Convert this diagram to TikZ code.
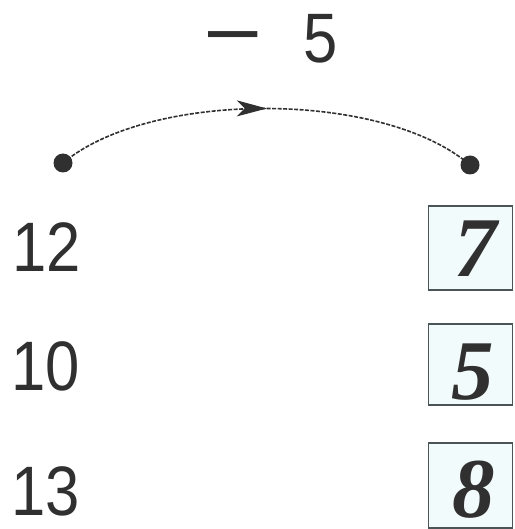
\documentclass[tikz,border=0pt]{standalone}
\usepackage{fontspec}
\setmainfont{Liberation Serif}
\setsansfont{Liberation Sans}
\usetikzlibrary{arrows.meta,decorations.markings}
\definecolor{ink}{HTML}{303030}
\definecolor{boxfill}{HTML}{F2FBFB}
\definecolor{boxline}{HTML}{4A5558}
\tikzset{
  dot/.style={circle,fill=ink,inner sep=0pt,minimum size=19pt},
  num/.style={font=\sffamily\fontsize{70}{70}\selectfont,text=ink,inner sep=0pt},
  ans/.style={font=\rmfamily\bfseries\itshape\fontsize{85}{85}\selectfont,text=ink,inner sep=0pt},
  ansbox/.style={draw=boxline,line width=1.5pt,fill=boxfill},
  arcline/.style={draw=ink,line width=1.6pt,dash pattern=on 4pt off 1.5pt,
    postaction={decorate},
    decoration={markings,mark=at position 0.5 with {\arrow[solid,line width=1pt]{Stealth[length=30pt,width=16pt,inset=8pt]}}}}
}
\begin{document}
\begin{tikzpicture}[x=1pt,y=-1pt]
\useasboundingbox (0,0) rectangle (514,529);
\node[num,anchor=base] (minus) at (233,63) {\scalebox{1.45}[1.2]{−}};
\node[num,anchor=base] (five) at (321,63) {\scalebox{0.88}[1]{5}};
\node[dot] (a) at (63,163) {};
\node[dot] (b) at (470,165) {};
\draw[arcline] (a.center) .. controls (150,90) and (383,90) .. (b.center);
\node[num] (n1) at (47,247) {\scalebox{0.88}[1]{12}};
\node[num] (n2) at (46,366) {\scalebox{0.88}[1]{10}};
\node[num] (n3) at (46,491) {\scalebox{0.88}[1]{13}};
\draw[ansbox] (428.5,206) rectangle (512.5,290);
\node[ans] (r1) at (476,249) {7};
\draw[ansbox] (428.5,324) rectangle (512.5,405);
\node[ans] (r2) at (473,372) {5};
\draw[ansbox] (428.5,443) rectangle (512.5,528);
\node[ans] (r3) at (474,490) {8};
\end{tikzpicture}
\end{document}
